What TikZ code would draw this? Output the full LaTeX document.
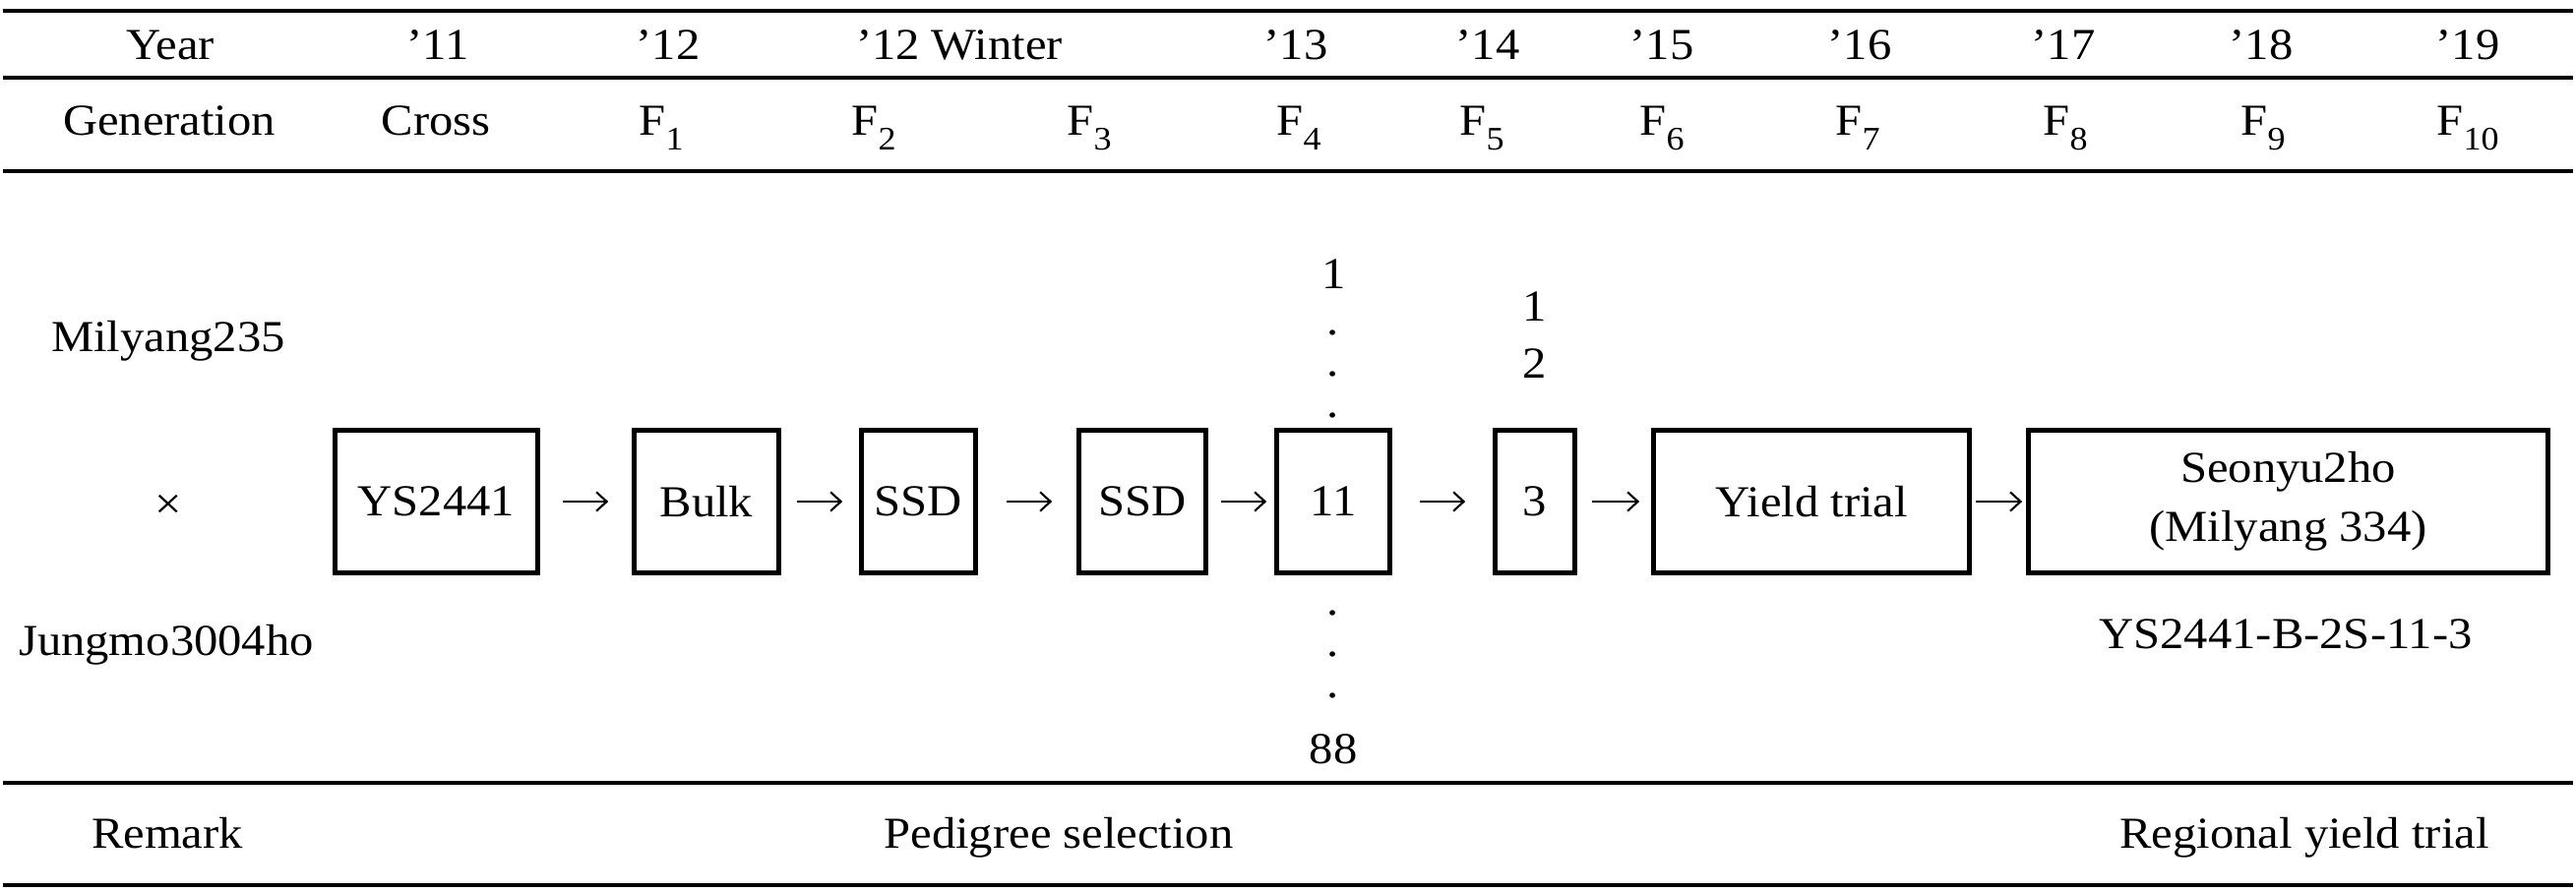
\documentclass[tikz,border=0pt]{standalone}
\usepackage{fontspec}
\setmainfont{Liberation Serif}[FakeStretch=1.08]
\usetikzlibrary{arrows.meta}
\newcommand\Fgen[1]{F\raisebox{-4.2pt}{\fontsize{9.5}{10}\selectfont #1}}
\begin{document}
\begin{tikzpicture}[x=0.01cm,y=-0.01cm,
  every node/.style={font=\fontsize{12.8}{15}\selectfont, inner sep=0pt},
  lbl/.style={anchor=base},
  rule/.style={line width=1.15pt},
  stage/.style={draw, line width=1.3pt, minimum height=1.45cm, inner sep=0pt, align=center},
  arr/.style={-{Straight Barb[length=3pt,width=5.5pt]}, line width=0.6pt}]
\fill[white] (0,0) rectangle (2618,907);
\useasboundingbox (0,0) rectangle (2618,907);
% rules
\draw[rule] (3,11) -- (2615,11);
\draw[rule] (3,79) -- (2615,79);
\draw[rule] (3,174) -- (2615,174);
\draw[rule] (3,796) -- (2615,796);
\draw[rule] (3,900) -- (2615,900);
% year row
\node[lbl] (yr)  at (173,61) {Year};
\node[lbl] (y11) at (445,61) {’11};
\node[lbl] (y12) at (679,61) {’12};
\node[lbl] (y12w) at (975,61) {’12 Winter};
\node[lbl] (y13) at (1317,61) {’13};
\node[lbl] (y14) at (1512,61) {’14};
\node[lbl] (y15) at (1689,61) {’15};
\node[lbl] (y16) at (1890,61) {’16};
\node[lbl] (y17) at (2097,61) {’17};
\node[lbl] (y18) at (2298,61) {’18};
\node[lbl] (y19) at (2508,61) {’19};
% generation row
\node[lbl] (gen) at (172,138) {Generation};
\node[lbl] (gc)  at (443,138) {Cross};
\node[lbl] (g1)  at (672,138) {\Fgen{1}};
\node[lbl] (g2)  at (888,138) {\Fgen{2}};
\node[lbl] (g3)  at (1107,138) {\Fgen{3}};
\node[lbl] (g4)  at (1320,138) {\Fgen{4}};
\node[lbl] (g5)  at (1506,138) {\Fgen{5}};
\node[lbl] (g6)  at (1689,138) {\Fgen{6}};
\node[lbl] (g7)  at (1888,138) {\Fgen{7}};
\node[lbl] (g8)  at (2099,138) {\Fgen{8}};
\node[lbl] (g9)  at (2300,138) {\Fgen{9}};
\node[lbl] (g10) at (2508,138) {\Fgen{10}};
% parents
\node[lbl] (p1) at (171,358) {Milyang235};
\node (cross) at (171,515) {×};
\node[lbl] (p2) at (169,667) {Jungmo3004ho};
% stages
\node[stage, minimum width=2.06cm] (b1) at (443.5,510) {YS2441};
\node[stage, minimum width=1.47cm] (b2) at (718,510) {Bulk};
\node[stage, minimum width=1.16cm] (b3) at (933.5,510) {SSD};
\node[stage, minimum width=1.29cm] (b4) at (1161,510) {SSD};
\node[stage, minimum width=1.15cm] (b5) at (1355,510) {11};
\node[stage, minimum width=0.81cm] (b6) at (1560,510) {3};
\node[stage, minimum width=3.21cm] (b7) at (1841,510) {Yield trial};
\node[stage, minimum width=5.28cm, font=\fontsize{12.8}{17}\selectfont] (b8) at (2325.5,510) {Seonyu2ho\\(Milyang 334)};
% arrows
\draw[arr, shorten <=0.23cm, shorten >=0.24cm] (b1.east) -- (b2.west);
\draw[arr, shorten <=0.16cm, shorten >=0.17cm] (b2.east) -- (b3.west);
\draw[arr, shorten <=0.29cm, shorten >=0.25cm] (b3.east) -- (b4.west);
\draw[arr, shorten <=0.13cm, shorten >=0.08cm] (b4.east) -- (b5.west);
\draw[arr, shorten <=0.28cm, shorten >=0.28cm] (b5.east) -- (b6.west);
\draw[arr, shorten <=0.15cm, shorten >=0.12cm] (b6.east) -- (b7.west);
\draw[arr, shorten <=0.04cm, shorten >=0.04cm] (b7.east) -- (b8.west);
% F4 line numbers
\node[lbl] (n1) at (1356,294) {1};
\node[lbl] (d1) at (1355,341) {.};
\node[lbl] (d2) at (1355,383) {.};
\node[lbl] (d3) at (1355,425) {.};
\node[lbl] (d4) at (1355,626) {.};
\node[lbl] (d5) at (1355,668) {.};
\node[lbl] (d6) at (1355,710) {.};
\node[lbl] (n88) at (1355,777) {88};
% F5 line numbers
\node[lbl] (m1) at (1560,327) {1};
\node[lbl] (m2) at (1560,385) {2};
% pedigree name
\node[lbl] (ped) at (2323,660) {YS2441-B-2S-11-3};
% remark row
\node[lbl] (rem) at (170,863) {Remark};
\node[lbl] (rps) at (1076,863) {Pedigree selection};
\node[lbl] (ryt) at (2342,863) {Regional yield trial};
\end{tikzpicture}
\end{document}
